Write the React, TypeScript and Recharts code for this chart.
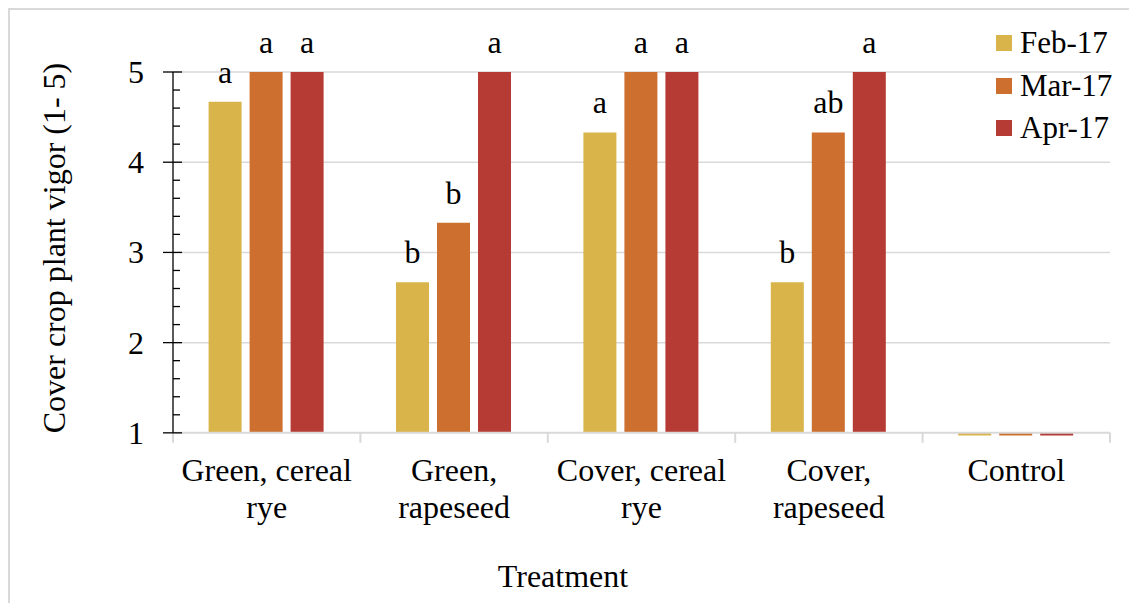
import React from 'react';
import { BarChart, Bar, XAxis, YAxis, CartesianGrid, LabelList, Label, ReferenceLine } from 'recharts';

const categories = ['Green, cereal rye', 'Green, rapeseed', 'Cover, cereal rye', 'Cover, rapeseed', 'Control'];
const feb17 = [4.67, 2.67, 4.33, 2.67, 0.97];
const mar17 = [5, 3.33, 5, 4.33, 0.97];
const apr17 = [5, 5, 5, 5, 0.97];
const febLetters = ['a', 'b', 'a', 'b', ''];
const marLetters = ['a', 'b', 'a', 'ab', ''];
const aprLetters = ['a', 'a', 'a', 'a', ''];
const yMajorTicks = [1, 2, 3, 4, 5];
const yMinorTicks = [1.2, 1.4, 1.6, 1.8, 2.2, 2.4, 2.6, 2.8, 3.2, 3.4, 3.6, 3.8, 4.2, 4.4, 4.6, 4.8];
const gridValues = [2, 3, 4, 5];

const series = [
  { key: 'feb', label: 'Feb-17', color: '#D9B44A' },
  { key: 'mar', label: 'Mar-17', color: '#CD6F2F' },
  { key: 'apr', label: 'Apr-17', color: '#B63B34' },
];

const FONT = '"Liberation Serif", "Times New Roman", serif';
const CHART_W = 1127;
const CHART_H = 593;
const Y_W = 163;
const X_H = 167;
const Y_MIN = 0.965; // a bit under 1 so the control slivers below the axis show
const Y_BASE = 1; // excel draws the bars from the axis crossing
const MARGIN = { top: 62, right: 27, left: 0, bottom: 0 };
const PLOT_W = CHART_W - Y_W - MARGIN.right;
const PLOT_H = CHART_H - MARGIN.top - X_H;
const BAND = PLOT_W / categories.length;
const BASE_OFF = ((Y_BASE - Y_MIN) * PLOT_H) / (5 - Y_MIN);

const data = categories.map((name, i) => ({
  name,
  feb: feb17[i],
  mar: mar17[i],
  apr: apr17[i],
  febL: febLetters[i],
  marL: marLetters[i],
  aprL: aprLetters[i],
}));

// greedy wrap, roughly like Excel does it for these labels
function wrap(text: string, max = 13) {
  const words = text.split(' ');
  const lines: string[] = [];
  let cur = '';
  words.forEach(w => {
    if (!cur) cur = w;
    else if ((cur + ' ' + w).length <= max) cur = cur + ' ' + w;
    else {
      lines.push(cur);
      cur = w;
    }
  });
  if (cur) lines.push(cur);
  return lines;
}

function YTick(props: any) {
  const { x, y, payload } = props;
  const major = yMajorTicks.includes(payload.value);
  return (
    <g>
      {major ? (
        <>
          <line x1={x - 10} x2={x + 9} y1={y} y2={y} stroke="#000" strokeWidth={1.3} />
          <text x={x - 29} y={y + 11} textAnchor="end" fontFamily={FONT} fontSize={32} fill="#000">
            {payload.value}
          </text>
        </>
      ) : (
        <line x1={x} x2={x + 7} y1={y} y2={y} stroke="#000" strokeWidth={1.3} />
      )}
    </g>
  );
}

function XTick(props: any) {
  const { x, y, payload, index } = props;
  const lines = wrap(payload.value);
  const top = y - BASE_OFF;
  return (
    <g>
      <line x1={x - BAND / 2} x2={x - BAND / 2} y1={top} y2={top + 10} stroke="#D9D9D9" strokeWidth={2} />
      {index === categories.length - 1 && (
        <line x1={x + BAND / 2} x2={x + BAND / 2} y1={top} y2={top + 10} stroke="#D9D9D9" strokeWidth={2} />
      )}
      {lines.map((l, i) => (
        <text key={i} x={x} y={top + 48 + i * 37} textAnchor="middle" fontFamily={FONT} fontSize={32} fill="#000">
          {l}
        </text>
      ))}
    </g>
  );
}

export default function App() {
  return (
    <div
      style={{
        position: 'relative',
        width: CHART_W,
        height: CHART_H,
        borderLeft: '2px solid #D9D9D9',
        borderTop: '2px solid #D9D9D9',
        background: '#fff',
      }}
    >
      <BarChart width={CHART_W} height={CHART_H} data={data} margin={MARGIN} barCategoryGap="19%" barGap={8}>
        <CartesianGrid vertical={false} stroke="#D9D9D9" strokeWidth={1.5} horizontalValues={gridValues} />
        <XAxis
          dataKey="name"
          height={X_H}
          interval={0}
          tickSize={0}
          tickMargin={0}
          tickLine={false}
          axisLine={false}
          tick={<XTick />}
        >
          <Label
            content={() => (
              <text x={553} y={577} textAnchor="middle" fontFamily={FONT} fontSize={32} fill="#000">
                Treatment
              </text>
            )}
          />
        </XAxis>
        <YAxis
          width={Y_W}
          type="number"
          domain={[Y_MIN, 5]}
          ticks={[...yMajorTicks, ...yMinorTicks].sort((a, b) => a - b)}
          interval={0}
          tickSize={0}
          tickMargin={0}
          tickLine={false}
          axisLine={{ stroke: '#000', strokeWidth: 1.3 }}
          tick={<YTick />}
        >
          <Label
            content={() => (
              <text
                x={55}
                y={238}
                transform="rotate(-90, 55, 238)"
                textAnchor="middle"
                fontFamily={FONT}
                fontSize={32}
                fill="#000"
              >
                Cover crop plant vigor (1- 5)
              </text>
            )}
          />
        </YAxis>
        {series.map(s => (
          <Bar
            key={s.key}
            dataKey={(d: any) => [Y_BASE, d[s.key]]}
            name={s.label}
            fill={s.color}
            isAnimationActive={false}
          >
            <LabelList
              dataKey={s.key + 'L'}
              position="top"
              offset={19}
              style={{ fontFamily: FONT, fontSize: 32, fill: '#000' }}
            />
          </Bar>
        ))}
        <ReferenceLine y={Y_BASE} stroke="#D9D9D9" strokeWidth={2} />
      </BarChart>
      <div style={{ position: 'absolute', left: 986, top: 12, fontFamily: FONT, fontSize: 31, color: '#000' }}>
        {series.map(s => (
          <div key={s.key} style={{ display: 'flex', alignItems: 'center', height: 42.5 }}>
            <span style={{ width: 16, height: 16, background: s.color, marginRight: 8, display: 'inline-block' }} />
            <span>{s.label}</span>
          </div>
        ))}
      </div>
    </div>
  );
}
